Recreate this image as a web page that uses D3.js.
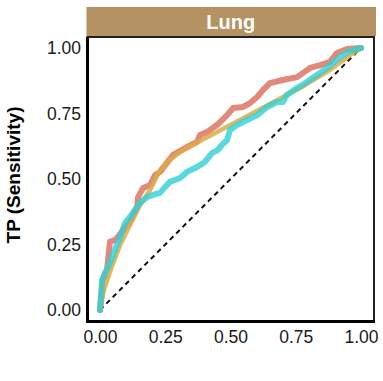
<!DOCTYPE html>
<html>
<head>
<meta charset="utf-8">
<script src="https://d3js.org/d3.v7.min.js"></script>
<style>
  body { margin: 0; background: #fff; }
  text { font-family: "Liberation Sans", Arial, sans-serif; }
  .tick text { font-size: 17.5px; fill: #1a1a1a; }
  .roc { fill: none; stroke-linejoin: round; stroke-linecap: round; }
</style>
</head>
<body>
<svg id="chart" width="383" height="381"></svg>
<script>
// ROC curves: [FPR, TPR]
const redCurve = [
  [0, 0], [0.011, 0.115], [0.027, 0.153], [0.038, 0.26], [0.057, 0.267],
  [0.069, 0.279], [0.088, 0.305], [0.115, 0.336], [0.142, 0.393], [0.146, 0.431],
  [0.165, 0.466], [0.192, 0.477], [0.211, 0.515], [0.23, 0.527], [0.28, 0.592],
  [0.333, 0.622], [0.372, 0.641], [0.383, 0.668], [0.41, 0.679], [0.448, 0.706],
  [0.487, 0.744], [0.51, 0.771], [0.548, 0.775], [0.575, 0.79], [0.602, 0.813],
  [0.625, 0.84], [0.651, 0.866], [0.701, 0.878], [0.755, 0.889], [0.805, 0.924],
  [0.843, 0.935], [0.881, 0.947], [0.908, 0.981], [0.946, 0.996], [1, 1]
];
const orangeCurve = [
  [0, 0], [0.015, 0.076], [0.038, 0.145], [0.077, 0.248], [0.115, 0.324],
  [0.153, 0.4], [0.192, 0.458], [0.23, 0.534], [0.268, 0.573], [0.307, 0.603],
  [0.383, 0.645], [0.536, 0.725], [0.651, 0.786], [0.766, 0.847], [0.881, 0.916],
  [0.958, 0.973], [1, 1]
];
const cyanCurve = [
  [0, 0], [0.008, 0.115], [0.019, 0.141], [0.038, 0.179], [0.057, 0.229],
  [0.077, 0.279], [0.096, 0.332], [0.115, 0.355], [0.134, 0.382], [0.153, 0.408],
  [0.18, 0.431], [0.203, 0.439], [0.23, 0.447], [0.249, 0.469], [0.268, 0.489],
  [0.307, 0.504], [0.333, 0.527], [0.372, 0.546], [0.402, 0.565], [0.429, 0.599],
  [0.452, 0.611], [0.467, 0.63], [0.487, 0.649], [0.498, 0.687], [0.525, 0.706],
  [0.563, 0.725], [0.602, 0.744], [0.64, 0.775], [0.678, 0.794], [0.701, 0.794],
  [0.716, 0.821], [0.755, 0.847], [0.793, 0.87], [0.831, 0.897], [0.87, 0.924],
  [0.893, 0.943], [0.92, 0.966], [0.958, 0.989], [1, 1]
];
const diagonal = [[0, 0], [1, 1]];
const tickValues = [0, 0.25, 0.5, 0.75, 1];
const panelTitle = "Lung";
const yTitle = "TP (Sensitivity)";

const svg = d3.select("#chart");
const panel = { left: 87.5, right: 374, top: 37, bottom: 321.5 };

const x = d3.scaleLinear().domain([0, 1]).range([100, 361]);
const y = d3.scaleLinear().domain([0, 1]).range([310, 48]);

// strip
svg.append("rect")
  .attr("x", 86.5).attr("y", 7)
  .attr("width", 376 - 86.5).attr("height", 29)
  .attr("fill", "#b49263");
svg.append("text")
  .attr("x", (panel.left + panel.right) / 2).attr("y", 29)
  .attr("text-anchor", "middle")
  .attr("font-size", 20).attr("font-weight", "bold")
  .attr("fill", "#fff")
  .text(panelTitle);

// panel border
svg.append("rect")
  .attr("x", panel.left).attr("y", panel.top)
  .attr("width", panel.right - panel.left).attr("height", panel.bottom - panel.top)
  .attr("fill", "none").attr("stroke", "#222").attr("stroke-width", 2);

const line = d3.line().x(d => x(d[0])).y(d => y(d[1]));

svg.append("path").datum(diagonal)
  .attr("d", line)
  .attr("fill", "none").attr("stroke", "#111")
  .attr("stroke-width", 2).attr("stroke-dasharray", "5,4");

svg.append("path").datum(redCurve).attr("class", "roc")
  .attr("d", line).attr("stroke", "#dc6c5a")
  .attr("stroke-opacity", 0.8).attr("stroke-width", 6);
svg.append("path").datum(orangeCurve).attr("class", "roc")
  .attr("d", line).attr("stroke", "#deaa45")
  .attr("stroke-opacity", 0.85).attr("stroke-width", 4.5);
svg.append("path").datum(cyanCurve).attr("class", "roc")
  .attr("d", line).attr("stroke", "#2fd0d5")
  .attr("stroke-opacity", 0.8).attr("stroke-width", 6);

// axes
const xAxis = svg.append("g")
  .attr("transform", `translate(0,${panel.bottom})`)
  .call(d3.axisBottom(x).tickValues(tickValues).tickFormat(d3.format(".2f"))
    .tickSize(0).tickPadding(9));
xAxis.select(".domain").remove();

const yAxis = svg.append("g")
  .attr("transform", `translate(${panel.left},0)`)
  .call(d3.axisLeft(y).tickValues(tickValues).tickFormat(d3.format(".2f"))
    .tickSize(0).tickPadding(6.5));
yAxis.select(".domain").remove();
svg.selectAll(".tick text").attr("font-family", null);

svg.append("line")
  .attr("x1", panel.left).attr("x2", panel.left)
  .attr("y1", panel.top).attr("y2", panel.bottom + 1.5)
  .attr("stroke", "#000").attr("stroke-width", 3);
svg.append("line")
  .attr("x1", panel.left - 1.5).attr("x2", panel.right + 1)
  .attr("y1", panel.bottom).attr("y2", panel.bottom)
  .attr("stroke", "#000").attr("stroke-width", 3);

svg.append("text")
  .attr("transform", "translate(19.5,175) rotate(-90)")
  .attr("text-anchor", "middle")
  .attr("font-size", 19).attr("font-weight", "bold")
  .attr("fill", "#000")
  .text(yTitle);
</script>
</body>
</html>
